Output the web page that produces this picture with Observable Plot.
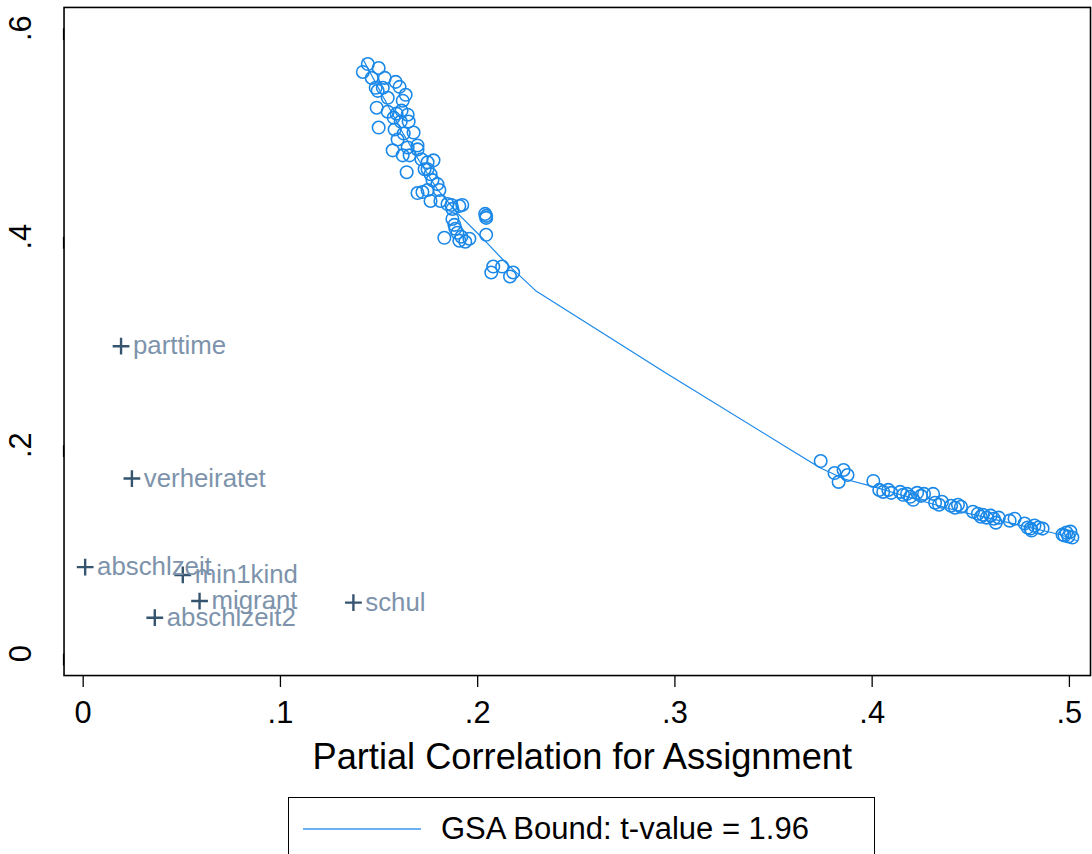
<!DOCTYPE html>
<html>
<head>
<meta charset="utf-8">
<script src="https://cdn.jsdelivr.net/npm/d3@7"></script>
<script src="https://cdn.jsdelivr.net/npm/@observablehq/plot@0.6"></script>
<style>
html, body { margin: 0; padding: 0; background: #fff; overflow: hidden; width: 1092px; height: 854px; }
#chart { position: absolute; left: 0; top: 0; }
#legend { position: absolute; left: 288px; top: 797px; width: 587px; height: 90px; border: 1px solid #000; box-sizing: border-box; font-family: "Liberation Sans", Arial, sans-serif; background: #fff; }
#legend .swatch { position: absolute; left: 14px; top: 30px; width: 118px; height: 1.5px; background: #6ab2f2; }
#legend .lab { position: absolute; left: 152px; top: 14px; font-size: 31px; line-height: 34px; color: #000; white-space: nowrap; }
</style>
</head>
<body>
<div id="chart"></div>
<div id="legend"><div class="swatch"></div><span class="lab"></span></div>
<script>
// Sensitivity points (open circles)
const circX = [
  0.1443,0.1418,0.1498,0.1463,0.1529,0.1584,0.1604,0.1483,0.1493,0.1544,
  0.1635,0.1620,0.1488,0.1544,0.1589,0.1614,0.1645,0.1574,0.1610,0.1650,
  0.1498,0.1579,0.1675,0.1625,0.1594,0.1569,0.1645,0.1695,0.1620,0.1655,
  0.1695,0.1640,0.1715,0.1746,0.1776,0.1746,0.1761,0.1796,0.1771,0.1695,
  0.1720,0.1746,0.1806,0.1761,0.1811,0.1847,0.1867,0.1907,0.1922,0.1872,
  0.1882,0.1897,0.1917,0.1937,0.1958,0.1907,0.1831,0.2038,0.2043,0.2043,
  0.2043,0.2079,0.2069,0.2124,0.2164,0.2180,0.1519,0.1731,0.1872,0.1887,
  0.3739,0.3809,0.3855,0.3875,0.3830,0.4006,0.4036,0.4056,0.4082,0.4097,
  0.4142,0.4157,0.4177,0.4193,0.4208,0.4228,0.4248,0.4263,0.4309,0.4319,
  0.4339,0.4354,0.4400,0.4420,0.4435,0.4450,0.4511,0.4536,0.4551,0.4561,
  0.4581,0.4601,0.4617,0.4627,0.4642,0.4697,0.4722,0.4773,0.4788,0.4803,
  0.4823,0.4843,0.4864,0.4965,0.4985,0.4995,0.5005,0.5015,0.4975,0.4808
];
const circY = [
  0.5657,0.5581,0.5619,0.5524,0.5524,0.5486,0.5438,0.5429,0.5400,0.5333,
  0.5362,0.5305,0.5238,0.5200,0.5181,0.5210,0.5171,0.5143,0.5105,0.5105,
  0.5048,0.5029,0.5000,0.4990,0.4933,0.4829,0.4857,0.4876,0.4781,0.4781,
  0.4838,0.4619,0.4743,0.4714,0.4733,0.4648,0.4600,0.4505,0.4543,0.4419,
  0.4429,0.4448,0.4448,0.4343,0.4343,0.4314,0.4305,0.4295,0.4305,0.4171,
  0.4114,0.4038,0.4000,0.3952,0.3981,0.3962,0.3990,0.4219,0.4181,0.4200,
  0.4019,0.3714,0.3657,0.3714,0.3619,0.3657,0.5429,0.4648,0.4267,0.4076,
  0.1848,0.1733,0.1762,0.1714,0.1648,0.1657,0.1571,0.1552,0.1571,0.1543,
  0.1552,0.1524,0.1533,0.1505,0.1476,0.1543,0.1514,0.1533,0.1533,0.1448,
  0.1429,0.1457,0.1419,0.1400,0.1429,0.1410,0.1362,0.1343,0.1314,0.1333,
  0.1305,0.1324,0.1295,0.1257,0.1305,0.1276,0.1295,0.1248,0.1210,0.1200,
  0.1229,0.1210,0.1200,0.1143,0.1162,0.1124,0.1171,0.1114,0.1133,0.1181
];
// GSA bound curve
const boundX = [0.1418,0.1518,0.1619,0.1705,0.1795,0.1896,0.2012,0.2147,0.2298,0.2952,0.3607,0.3738,0.3859,0.4010,0.4211,0.4447,0.4714,0.4951,0.5036];
const boundY = [0.5705,0.5352,0.5000,0.4724,0.4457,0.4229,0.4010,0.3743,0.3476,0.2695,0.1933,0.1781,0.1676,0.1600,0.1486,0.1362,0.1248,0.1143,0.1086];
// Observed covariates
const varNames = ["parttime","verheiratet","abschlzeit","min1kind","migrant","abschlzeit2","schul"];
const varX = [0.0192,0.0247,0.0010,0.0505,0.0590,0.0363,0.1370];
const varY = [0.2950,0.1680,0.0830,0.0755,0.0505,0.0345,0.0490];
// Axes
const xTicks = [0, 0.1, 0.2, 0.3, 0.4, 0.5];
const xTickLabels = ["0", ".1", ".2", ".3", ".4", ".5"];
const yTicks = [0, 0.2, 0.4, 0.6];
const yTickLabels = ["0", ".2", ".4", ".6"];
const xTitle = "Partial Correlation for Assignment";
const legendLabel = "GSA Bound: t-value = 1.96";

const circles = circX.map((x, i) => ({x, y: circY[i]}));
const bound = boundX.map((x, i) => ({x, y: boundY[i]}));
const vars = varNames.map((name, i) => ({name, x: varX[i], y: varY[i]}));
const fmt = (ticks, labels) => d => { const i = ticks.indexOf(d); return i >= 0 ? labels[i] : ""; };

const blue = "#1a88e8";
const chart = Plot.plot({
  width: 1100,
  height: 790,
  marginLeft: 64,
  marginRight: 2,
  marginTop: 7,
  marginBottom: 110,
  style: {fontFamily: "'Liberation Sans', Arial, sans-serif", background: "#fff", color: "#000"},
  x: {domain: [-0.00971, 0.5107]},
  y: {domain: [-0.021, 0.62]},
  marks: [
    Plot.frame({stroke: "#000", strokeWidth: 1.6}),
    Plot.axisX({ticks: xTicks, tickFormat: fmt(xTicks, xTickLabels), tickSize: 12, tickPadding: 14, fontSize: 31, label: null, strokeWidth: 1.3}),
    Plot.axisY({ticks: yTicks, tickFormat: fmt(yTicks, yTickLabels), tickSize: 12, tickPadding: 31, fontSize: 31, rotate: -90, textAnchor: "middle", label: null, strokeWidth: 1.3}),
    Plot.text([xTitle], {text: d => d, frameAnchor: "bottom", lineAnchor: "middle", dy: 82, dx: 5, fontSize: 36.5, fill: "#000"}),
    Plot.line(bound, {x: "x", y: "y", stroke: blue, strokeWidth: 1.2}),
    Plot.dot(circles, {x: "x", y: "y", r: 6.3, stroke: blue, strokeWidth: 1.6, fill: "none"}),
    Plot.dot(vars, {x: "x", y: "y", symbol: "plus", r: 5.5, stroke: "#34546f", strokeWidth: 2.4}),
    Plot.text(vars, {x: "x", y: "y", text: "name", dx: 12, textAnchor: "start", lineAnchor: "middle", fontSize: 26, fill: "#7d93ab"})
  ]
});
document.getElementById("chart").appendChild(chart);
document.querySelector("#legend .lab").textContent = legendLabel;
</script>
</body>
</html>
